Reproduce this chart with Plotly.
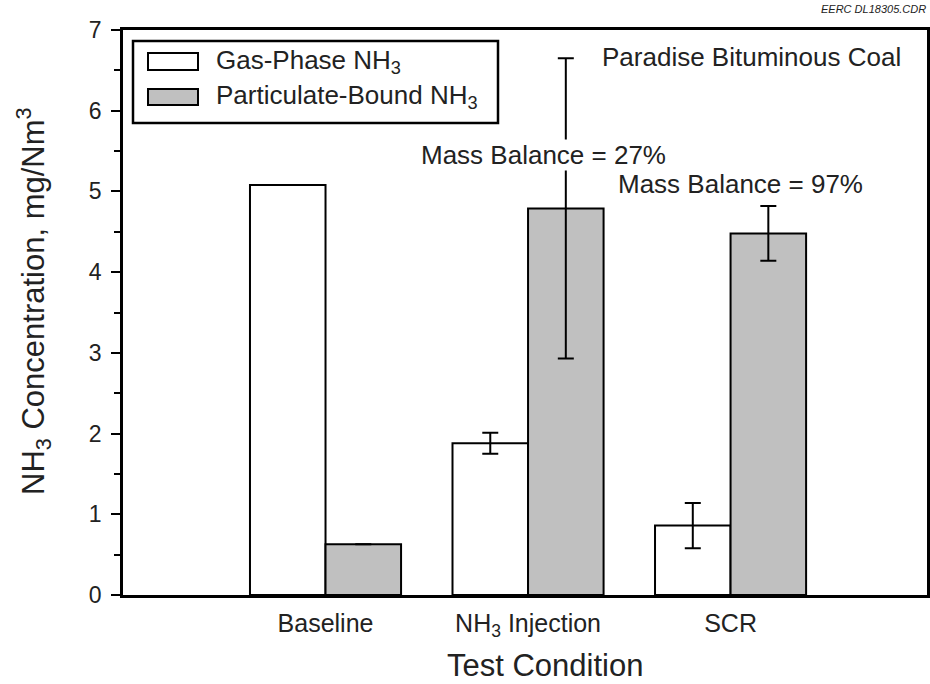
import plotly.graph_objects as go

# ---- data ----
categories = ["Baseline", "NH<sub>3</sub> Injection", "SCR"]
gas_phase = [5.08, 1.88, 0.86]
gas_err = [None, 0.13, 0.28]
particulate = [0.63, 4.79, 4.48]
part_err = [None, 1.86, 0.34]
y_ticks = [0, 1, 2, 3, 4, 5, 6, 7]

FONT = "Liberation Sans, Arial, Helvetica, sans-serif"

# plot area in pixels (for converting decorative positions to paper coords)
W, H = 930, 684
L, R, T, B = 123, 3, 30, 89
PW, PH = W - L - R, H - T - B


def px(x):
    return (x - L) / PW


def py(y):
    return (H - B - y) / PH


fig = go.Figure()
fig.add_trace(go.Bar(
    x=categories, y=gas_phase, name="Gas-Phase NH<sub>3</sub>",
    marker=dict(color="white", line=dict(color="black", width=2)),
    error_y=dict(type="data", array=gas_err, color="black", thickness=2, width=8),
    showlegend=False,
))
fig.add_trace(go.Bar(
    x=categories, y=particulate, name="Particulate-Bound NH<sub>3</sub>",
    marker=dict(color="#c0c0c0", line=dict(color="black", width=2)),
    error_y=dict(type="data", array=part_err, color="black", thickness=2, width=8),
    showlegend=False,
))

shapes = []
annotations = []

# legend box (manual, to reproduce the wide swatches)
shapes.append(dict(type="rect", xref="paper", yref="paper",
                   x0=px(133), x1=px(498), y0=py(123), y1=py(41),
                   line=dict(color="black", width=2.5), fillcolor="white", layer="above"))
legend_items = [("Gas-Phase NH<sub>3</sub>", "white", 53, 70),
                ("Particulate-Bound NH<sub>3</sub>", "#c0c0c0", 89, 105)]
for label, col, yt, yb in legend_items:
    shapes.append(dict(type="rect", xref="paper", yref="paper",
                       x0=px(148), x1=px(198), y0=py(yb), y1=py(yt),
                       line=dict(color="black", width=2), fillcolor=col, layer="above"))
    annotations.append(dict(text=label, xref="paper", yref="paper",
                            x=px(214), y=py((yt + yb) / 2), xanchor="left", yanchor="middle",
                            showarrow=False, font=dict(family=FONT, size=26, color="#222")))

annotations += [
    dict(text="Paradise Bituminous Coal", xref="paper", yref="paper", x=px(751), y=py(57),
         xanchor="center", yanchor="middle", showarrow=False,
         font=dict(family=FONT, size=26, color="#222")),
    dict(text="Mass Balance = 27%", xref="paper", yref="paper", x=px(543), y=py(155),
         xanchor="center", yanchor="middle", showarrow=False, bgcolor="white", borderpad=0,
         font=dict(family=FONT, size=26, color="#222")),
    dict(text="Mass Balance = 97%", xref="paper", yref="paper", x=px(740), y=py(184),
         xanchor="center", yanchor="middle", showarrow=False,
         font=dict(family=FONT, size=26, color="#222")),
    dict(text="<i>EERC DL18305.CDR</i>", xref="paper", yref="paper", x=px(928), y=py(9),
         xanchor="right", yanchor="middle", showarrow=False,
         font=dict(family=FONT, size=11, color="#222")),
    dict(text="Test Condition", xref="paper", yref="paper", x=px(545), y=py(665),
         xanchor="center", yanchor="middle", showarrow=False,
         font=dict(family=FONT, size=31, color="#222")),
    dict(text="NH<sub>3</sub> Concentration, mg/Nm<sup>3</sup>", xref="paper", yref="paper",
         x=px(33), y=py(301), xanchor="center", yanchor="middle", textangle=-90,
         showarrow=False, font=dict(family=FONT, size=31, color="#222")),
]

fig.update_layout(
    width=W, height=H,
    margin=dict(l=L, r=R, t=T, b=B, autoexpand=False),
    paper_bgcolor="white", plot_bgcolor="white",
    barmode="group", bargap=0.254, bargroupgap=0,
    shapes=shapes, annotations=annotations,
    font=dict(family=FONT, color="#222"),
)
fig.update_xaxes(
    type="category", range=[-1.0, 2.97],
    showline=True, linecolor="black", linewidth=2.5, mirror=True,
    showgrid=False, ticks="", zeroline=False,
    tickfont=dict(family=FONT, size=25, color="#222"),
    ticklabelstandoff=4,
)
fig.update_yaxes(
    range=[0, 7], tickvals=y_ticks,
    showline=True, linecolor="black", linewidth=2.5, mirror=True,
    showgrid=False, zeroline=False,
    ticks="outside", ticklen=9, tickwidth=2, tickcolor="black",
    minor=dict(dtick=0.5, ticks="outside", ticklen=6, tickwidth=2, tickcolor="black", showgrid=False),
    tickfont=dict(family=FONT, size=23, color="#222"),
    ticklabelstandoff=5,
)

fig.write_html("out.html")
